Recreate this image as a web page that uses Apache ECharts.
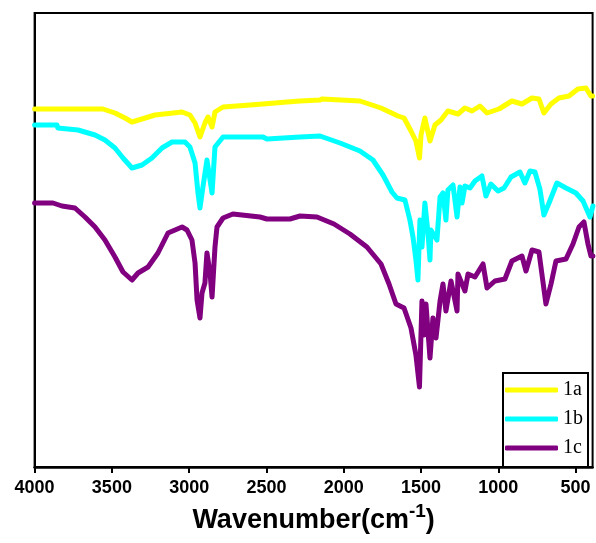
<!DOCTYPE html>
<html>
<head>
<meta charset="utf-8">
<script src="https://cdn.jsdelivr.net/npm/echarts@6/dist/echarts.min.js"></script>
<style>
html,body{margin:0;padding:0;background:#fff;}
#chart{width:596px;height:543px;}
</style>
</head>
<body>
<div id="chart"></div>
<script>
// Wavenumber (cm-1), transmittance (arbitrary units)
const seriesNames = ['1a', '1b', '1c'];
const seriesColors = ['#ffff00', '#00ffff', '#800080'];
const xTicks = [4000, 3500, 3000, 2500, 2000, 1500, 1000, 500];

const data1a = [
  [4000,358],[3558,358],[3480,354],[3415,349],[3370,345],[3305,348],[3221,352],[3046,355],
  [2995,352],[2962,344],[2930,330],[2898,344],[2878,350],[2852,340],[2833,355],[2781,360],
  [2607,362],[2522,363],[2367,365],[2283,366],[2154,367],[2141,368],[1895,366],[1759,359],
  [1649,351],[1610,349],[1565,336],[1533,326],[1510,309],[1500,332],[1475,349],[1442,326],
  [1410,342],[1371,347],[1326,356],[1261,353],[1216,359],[1170,356],[1119,361],[1073,354],
  [996,358],[912,366],[847,363],[782,369],[737,368],[705,354],[659,363],[608,369],
  [543,371],[485,378],[433,379],[401,371],[390,371]
];
const data1b = [
  [4000,342],[3855,342],[3850,339],[3719,337],[3609,332],[3545,327],[3480,319],[3428,309],
  [3370,299],[3305,302],[3241,309],[3176,319],[3111,325],[3027,325],[2995,320],[2962,304],
  [2943,274],[2930,259],[2911,280],[2885,307],[2865,287],[2852,274],[2833,320],[2781,330],
  [2522,330],[2497,328],[2283,330],[2154,331],[2024,324],[1895,316],[1811,307],[1746,292],
  [1688,275],[1656,269],[1604,267],[1572,247],[1552,230],[1533,207],[1520,187],[1507,247],
  [1494,220],[1475,264],[1455,234],[1442,207],[1436,237],[1397,227],[1377,270],[1358,274],
  [1339,247],[1326,277],[1293,282],[1267,250],[1248,280],[1235,264],[1216,281],[1183,279],
  [1151,286],[1106,291],[1080,271],[1048,283],[1002,276],[963,279],[918,290],[860,295],
  [828,284],[795,296],[763,295],[731,278],[705,252],[672,264],[621,284],[562,279],
  [498,274],[452,266],[407,250],[388,261]
];
const data1c = [
  [4000,264],[3881,264],[3823,261],[3739,259],[3674,250],[3609,240],[3545,227],[3480,210],
  [3428,195],[3370,187],[3331,194],[3266,200],[3202,214],[3137,234],[3046,240],[3014,237],
  [2982,227],[2962,204],[2949,167],[2930,149],[2917,174],[2898,184],[2885,214],[2865,194],
  [2852,170],[2833,220],[2820,240],[2781,249],[2717,253],[2542,250],[2497,248],[2348,248],
  [2283,251],[2173,250],[2063,243],[1960,233],[1850,220],[1759,203],[1707,183],[1662,163],
  [1610,159],[1565,139],[1533,112],[1510,80],[1494,166],[1481,132],[1468,163],[1442,109],
  [1423,149],[1403,129],[1377,166],[1358,183],[1339,156],[1306,186],[1267,156],[1261,193],
  [1216,176],[1196,193],[1151,190],[1099,203],[1073,179],[1022,186],[957,188],[912,206],
  [847,211],[821,196],[782,217],[737,215],[718,193],[692,163],[659,183],[627,206],
  [562,208],[517,223],[478,240],[446,245],[420,223],[401,211],[388,211]
];
const allData = [data1a, data1b, data1c];

const chart = echarts.init(document.getElementById('chart'), null, {renderer: 'canvas'});
chart.setOption({
  animation: false,
  backgroundColor: '#ffffff',
  grid: {
    left: 34.6, right: 3.4, top: 13, bottom: 76,
    containLabel: false,
    outerBoundsMode: 'none',
    show: true, borderColor: '#000', borderWidth: 2, backgroundColor: 'transparent'
  },
  xAxis: {
    type: 'value',
    inverse: true,
    min: 390,
    max: 4000,
    axisLine: {show: true, lineStyle: {color: '#000', width: 2.5}},
    axisTick: {show: true, inside: false, length: 6, lineStyle: {color: '#000', width: 2}, customValues: xTicks},
    axisLabel: {
      customValues: xTicks,
      formatter: (v) => String(v),
      margin: 12,
      color: '#000',
      fontFamily: 'Liberation Sans, Arial, sans-serif',
      fontWeight: 'bold',
      fontSize: 18
    },
    splitLine: {show: false},
    name: '{a|Wavenumber(cm}{b|-1}{a|)}',
    nameLocation: 'middle',
    nameGap: 26,
    nameTextStyle: {
      rich: {
        a: {fontFamily: 'Liberation Sans, Arial, sans-serif', fontWeight: 'bold', fontSize: 27, color: '#000', lineHeight: 32, verticalAlign: 'bottom'},
        b: {fontFamily: 'Liberation Sans, Arial, sans-serif', fontWeight: 'bold', fontSize: 19, color: '#000', verticalAlign: 'top', lineHeight: 20, padding: [0, 0, 22, 0]}
      }
    }
  },
  yAxis: {
    type: 'value',
    min: 0,
    max: 454,
    axisLine: {show: true, lineStyle: {color: '#000', width: 2}},
    axisTick: {show: false},
    axisLabel: {show: false},
    splitLine: {show: false}
  },
  legend: {
    orient: 'vertical',
    left: 503,
    top: 373,
    padding: [7, 5, 9, 2],
    itemGap: 9,
    itemWidth: 53,
    itemHeight: 5,
    icon: 'roundRect',
    backgroundColor: '#fff',
    borderColor: '#000',
    borderWidth: 2,
    textStyle: {fontFamily: 'Liberation Serif, Times New Roman, serif', fontSize: 20, color: '#000', lineHeight: 20},
    data: seriesNames
  },
  series: seriesNames.map((n, i) => ({
    name: n,
    type: 'line',
    data: allData[i],
    showSymbol: false,
    symbol: 'none',
    smooth: false,
    color: seriesColors[i],
    lineStyle: {color: seriesColors[i], width: 5, cap: 'round', join: 'round'},
    z: 2 + i
  }))
});
</script>
</body>
</html>
